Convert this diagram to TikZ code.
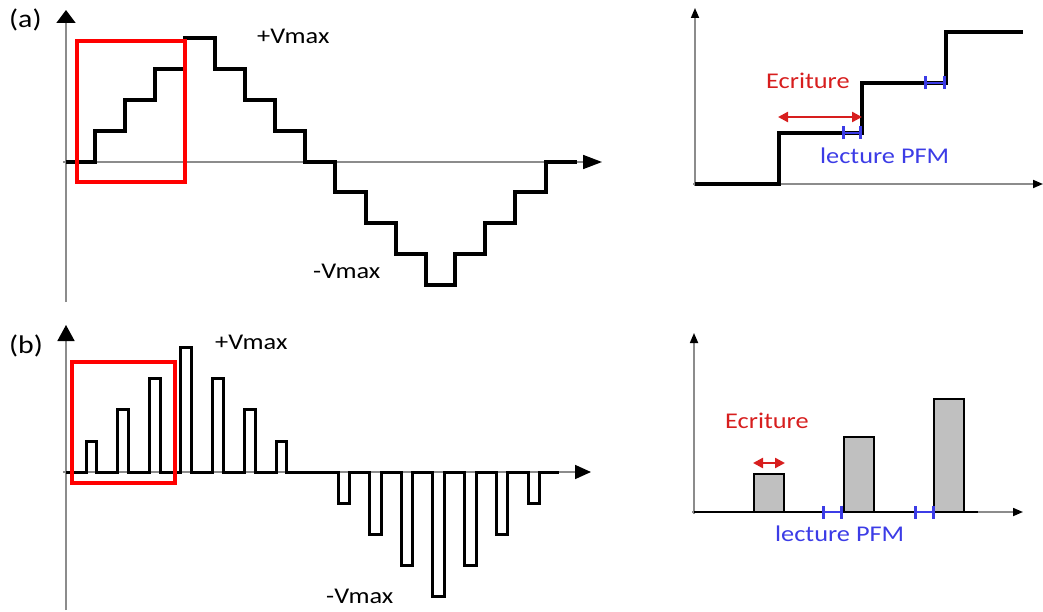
\documentclass[tikz,border=0pt]{standalone}
\usepackage{fontspec}
\setmainfont{Carlito}[FakeStretch=1.17]
\usetikzlibrary{arrows.meta}
\definecolor{axgray}{RGB}{140,140,140}
\definecolor{txtred}{RGB}{215,30,30}
\definecolor{txtblue}{RGB}{60,60,230}
\definecolor{barfill}{RGB}{192,192,192}
\tikzset{
  axis/.style={draw=axgray, line width=1.7pt},
  sig/.style={draw=black, line width=3.3pt, line join=miter},
  pulse/.style={draw=black, line width=3pt, line join=miter},
  zoombox/.style={draw=red, line width=3.3pt},
  lbl/.style={anchor=base west, inner sep=0pt, font=\fontsize{22.5}{26}\selectfont},
  panel/.style={anchor=base west, inner sep=0pt, font=\fontsize{25.5}{30}\selectfont},
  redlbl/.style={lbl, text=txtred},
  bluelbl/.style={lbl, text=txtblue},
  wrarrow/.style={draw=txtred, line width=2.4pt, {Triangle[length=10pt,width=10pt]}-{Triangle[length=10pt,width=10pt]}},
  readmark/.style={draw=txtblue, line width=2.6pt, {Bar[width=13pt,line width=2.6pt]}-{Bar[width=13pt,line width=2.6pt]}},
  bar/.style={draw=black, line width=2.7pt, fill=barfill},
}
\begin{document}
\begin{tikzpicture}[x=1pt,y=-1pt]
\useasboundingbox (0,0) rectangle (1043,612);

% ---------- (a) left ----------
\coordinate (aYb) at (66,302);
\coordinate (aYt) at (66,10);
\coordinate (aXl) at (63,162);
\coordinate (aXr) at (602,162);
\draw[axis, -{Triangle[length=13pt,width=19pt,color=black]}] (aYb) -- (aYt);
\draw[axis, -{Triangle[length=19pt,width=14pt,color=black]}] (aXl) -- (aXr);
\draw[sig] (66,162) -- (95,162) -- (95,131) -- (125,131) -- (125,100) -- (155,100) -- (155,69) -- (185,69) -- (185,38) -- (215,38) -- (215,69) -- (245,69) -- (245,100) -- (275,100) -- (275,131) -- (305,131) -- (305,162) -- (335,162) -- (335,192) -- (366,192) -- (366,223) -- (396,223) -- (396,254) -- (426,254) -- (426,285) -- (455,285) -- (455,254) -- (485,254) -- (485,223) -- (515,223) -- (515,192) -- (546,192) -- (546,162) -- (577,162);
\draw[zoombox] (77,41) rectangle (185,182);
\node[panel] (la) at (9,28) {(a)};
\node[lbl] (apmax) at (257,44) {+Vmax};
\node[lbl] (ammax) at (313,278) {-Vmax};

% ---------- (a) right ----------
\coordinate (rYb) at (695,186);
\coordinate (rYt) at (695,8);
\coordinate (rXl) at (693,184);
\coordinate (rXr) at (1043,184);
\draw[axis, -{Triangle[length=10pt,width=8pt,color=black]}] (rYb) -- (rYt);
\draw[axis, -{Triangle[length=10pt,width=8pt,color=black]}] (rXl) -- (rXr);
\draw[sig] (695,184) -- (779,184) -- (779,133) -- (862,133) -- (862,83) -- (946,83) -- (946,32) -- (1023,32);
\coordinate (wa1) at (778,117);
\coordinate (wa2) at (862,117);
\draw[wrarrow] (wa1) -- (wa2);
\coordinate (ra1) at (842,133);
\coordinate (ra2) at (862,133);
\draw[readmark] (ra1) -- (ra2);
\coordinate (ra3) at (924,83);
\coordinate (ra4) at (946,83);
\draw[readmark] (ra3) -- (ra4);
\node[redlbl] (ecra) at (766,89) {Ecriture};
\node[bluelbl] (lpa) at (820,164) {lecture PFM};

% ---------- (b) left ----------
\coordinate (bYb) at (66,610);
\coordinate (bYt) at (66,325);
\coordinate (bXl) at (63,472);
\coordinate (bXr) at (591,472);
\draw[axis, -{Triangle[length=16pt,width=17pt,color=black]}] (bYb) -- (bYt);
\draw[axis, -{Triangle[length=16pt,width=14pt,color=black]}] (bXl) -- (bXr);
\draw[pulse] (66,472) -- (86,472) -- (86,441) -- (96.5,441) -- (96.5,472) -- (117,472) -- (117,409) -- (128,409) -- (128,472) -- (149,472) -- (149,378) -- (160,378) -- (160,472) -- (180,472) -- (180,347) -- (191,347) -- (191,472) -- (212,472) -- (212,378) -- (223,378) -- (223,472) -- (244,472) -- (244,409) -- (255,409) -- (255,472) -- (276,472) -- (276,441) -- (286,441) -- (286,472) -- (338,472) -- (338,503) -- (349,503) -- (349,472) -- (369,472) -- (369,534) -- (381,534) -- (381,472) -- (401,472) -- (401,565) -- (412,565) -- (412,472) -- (432,472) -- (432,596) -- (444,596) -- (444,472) -- (464,472) -- (464,565) -- (476,565) -- (476,472) -- (496,472) -- (496,534) -- (507,534) -- (507,472) -- (528,472) -- (528,503) -- (539,503) -- (539,472) -- (559,472);
\draw[zoombox] (72,362) rectangle (175,483);
\node[panel] (lb) at (9,353) {(b)};
\node[lbl] (bpmax) at (215,349) {+Vmax};
\node[lbl] (bmmax) at (326,603) {-Vmax};

% ---------- (b) right ----------
\coordinate (sYb) at (694,514);
\coordinate (sYt) at (694,333);
\coordinate (sXl) at (692,512);
\coordinate (sXr) at (1023,512);
\draw[axis, -{Triangle[length=10pt,width=8pt,color=black]}] (sYb) -- (sYt);
\draw[axis, -{Triangle[length=10pt,width=8pt,color=black]}] (sXl) -- (sXr);
\draw[sig, line width=2.8pt] (694,512) -- (978,512);
\draw[bar] (754,512) rectangle (784,474);
\draw[bar] (844,512) rectangle (874,437);
\draw[bar] (934,512) rectangle (964,399);
\coordinate (wb1) at (753,463);
\coordinate (wb2) at (785,463);
\draw[wrarrow] (wb1) -- (wb2);
\coordinate (rb1) at (822,512);
\coordinate (rb2) at (843,512);
\draw[readmark] (rb1) -- (rb2);
\coordinate (rb3) at (914,512);
\coordinate (rb4) at (935,512);
\draw[readmark] (rb3) -- (rb4);
\node[redlbl] (ecrb) at (725,428) {Ecriture};
\node[bluelbl] (lpb) at (775,541) {lecture PFM};
\end{tikzpicture}
\end{document}
